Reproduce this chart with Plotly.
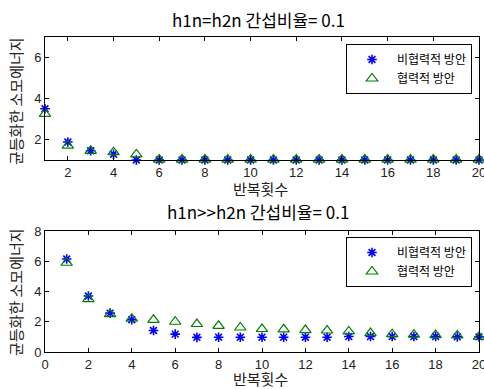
import plotly.graph_objects as go

iters = list(range(1, 21))

# top panel (h1n = h2n)
top_noncoop = [3.5, 1.88, 1.45, 1.28, 1.0, 1.0, 1.0, 1.0, 1.0, 1.0, 1.0, 1.0, 1.0, 1.0, 1.0, 1.0, 1.0, 1.0, 1.0, 1.0]
top_coop = [3.25, 1.7, 1.45, 1.38, 1.27, 1.02, 1.02, 1.02, 1.02, 1.02, 1.02, 1.02, 1.02, 1.02, 1.02, 1.02, 1.02, 1.02, 1.02, 1.02]

# bottom panel (h1n >> h2n)
bot_noncoop = [6.15, 3.7, 2.57, 2.13, 1.42, 1.18, 0.97, 0.98, 0.98, 0.98, 0.98, 0.98, 0.98, 1.02, 1.02, 1.02, 1.02, 1.02, 1.0, 1.0]
bot_coop = [5.9, 3.5, 2.5, 2.2, 2.13, 2.0, 1.85, 1.73, 1.62, 1.52, 1.5, 1.45, 1.42, 1.36, 1.25, 1.18, 1.15, 1.12, 1.1, 1.0]

name_noncoop = "비협력적 방안"
name_coop = "협력적 방안"
title_top = "h1n=h2n 간섭비율= 0.1"
title_bot = "h1n>>h2n 간섭비율= 0.1"
xlabel = "반복횟수"
ylabel = "균등화한 소모에너지"

W, H = 484, 389
FONT = "Liberation Sans, Arial, Noto Sans CJK KR"
KFONT = "Noto Sans CJK KR, Liberation Sans"

star = dict(symbol="asterisk-open", size=8, color="blue", line=dict(color="blue", width=1.6))
tri = dict(symbol="triangle-up-open", size=10, color="green", line=dict(color="green", width=1.2))

fig = go.Figure()
fig.add_trace(go.Scatter(x=iters, y=top_noncoop, mode="markers", name=name_noncoop, marker=star,
                         xaxis="x", yaxis="y", legend="legend", cliponaxis=False))
fig.add_trace(go.Scatter(x=iters, y=top_coop, mode="markers", name=name_coop, marker=tri,
                         xaxis="x", yaxis="y", legend="legend", cliponaxis=False))
fig.add_trace(go.Scatter(x=iters, y=bot_noncoop, mode="markers", name=name_noncoop, marker=star,
                         xaxis="x2", yaxis="y2", legend="legend2", cliponaxis=False))
fig.add_trace(go.Scatter(x=iters, y=bot_coop, mode="markers", name=name_coop, marker=tri,
                         xaxis="x2", yaxis="y2", legend="legend2", cliponaxis=False))

xd = [45 / W, 479 / W]
yd_top = [1 - 160 / H, 1 - 37 / H]
yd_bot = [1 - 352 / H, 1 - 231 / H]

axcommon = dict(showline=True, linecolor="black", linewidth=1, mirror="ticks", ticks="inside",
                ticklen=4, tickcolor="black", showgrid=False, zeroline=False, automargin=False,
                ticklabeloverflow="allow",
                tickfont=dict(family=FONT, size=13, color="#222"))

legcommon = dict(x=472 / W, xanchor="right", yanchor="top", bordercolor="black",
                 borderwidth=1, bgcolor="white", font=dict(family=KFONT, size=12, color="black"),
                 tracegroupgap=0, itemwidth=40)

fig.update_layout(
    width=W, height=H, margin=dict(l=0, r=0, t=0, b=0, autoexpand=False),
    paper_bgcolor="white", plot_bgcolor="white",
    xaxis=dict(domain=xd, anchor="y", range=[1, 20], tickvals=list(range(2, 21, 2)), **axcommon),
    yaxis=dict(domain=yd_top, anchor="x", range=[1, 7], tickvals=[2, 4, 6], **axcommon),
    xaxis2=dict(domain=xd, anchor="y2", range=[0, 20], tickvals=list(range(0, 21, 2)), **axcommon),
    yaxis2=dict(domain=yd_bot, anchor="x2", range=[0, 8], tickvals=[0, 2, 4, 6, 8], **axcommon),
    legend=dict(y=1 - 44 / H, **legcommon),
    legend2=dict(y=1 - 237 / H, **legcommon),
    showlegend=True,
)

ann = []
for txt, yp in [(title_top, 20), (title_bot, 212)]:
    ann.append(dict(text=txt, x=258 / W, y=1 - yp / H, xref="paper", yref="paper", showarrow=False,
                    font=dict(family=KFONT, size=17, color="black"), xanchor="center", yanchor="middle"))
for yp in [188, 378]:
    ann.append(dict(text=xlabel, x=260 / W, y=1 - yp / H, xref="paper", yref="paper", showarrow=False,
                    font=dict(family=KFONT, size=15, color="#222"), xanchor="center", yanchor="middle"))
for yp in [101, 292]:
    ann.append(dict(text=ylabel, x=15 / W, y=1 - yp / H, xref="paper", yref="paper", showarrow=False,
                    textangle=-90, font=dict(family=KFONT, size=15, color="#222"),
                    xanchor="center", yanchor="middle"))
fig.update_layout(annotations=ann)

fig.write_html("out.html", config={"displayModeBar": False},
               post_script="document.body.style.margin='0px';document.body.style.overflow='hidden';")
